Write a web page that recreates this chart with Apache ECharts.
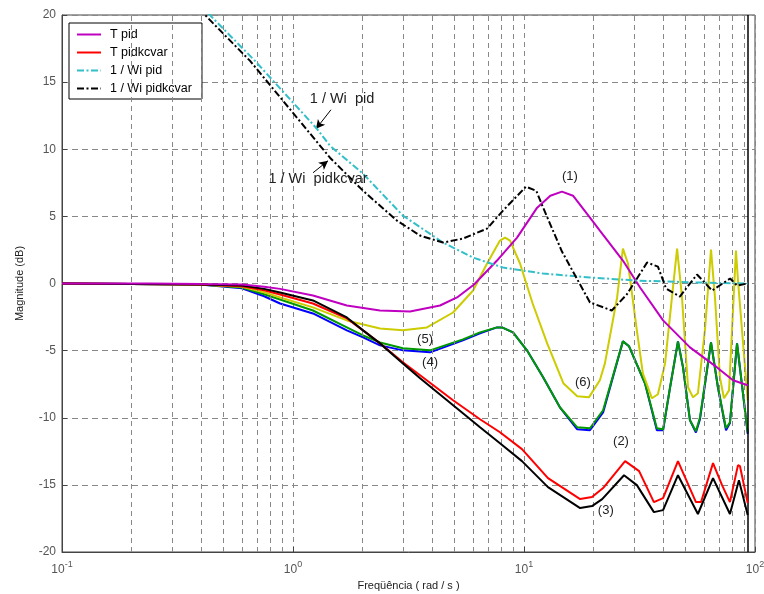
<!DOCTYPE html>
<html><head><meta charset="utf-8">
<script src="https://cdn.jsdelivr.net/npm/echarts@6/dist/echarts.min.js"></script>
<style>html,body{margin:0;padding:0;background:#fff}#c{width:764px;height:594px}</style>
</head><body><div id="c"></div>
<script>
// ---- data (frequency in rad/s, magnitude in dB) ----
const minorFreqs = [0.2,0.3,0.4,0.5,0.6,0.7,0.8,0.9,2,3,4,5,6,7,8,9,20,30,40,50,60,70,80,90];
const endFreq = 93;

const tpidF = [0.1,0.24,0.396,0.601,0.75,0.879,1.22,1.71,2.38,3.21,4.33,5.13,6.08,7.64,9.33,11.4,13.0,14.6,16.3,19.3,21.3,26.8,31.8,40.0,52.3,68.5,80.3,93];
const tpidV = [0,0,-0.04,-0.07,-0.25,-0.40,-0.89,-1.64,-2.01,-2.08,-1.64,-1.04,-0.07,1.71,3.42,5.65,6.54,6.84,6.54,4.91,3.94,1.71,-0.30,-2.75,-4.76,-6.25,-7.21,-7.58];

const tkcF = [0.1,0.396,0.601,0.75,0.879,1.22,1.71,2.01,2.38,2.99,3.55,4.93,6.45,7.87,9.80,12.7,17.5,19.7,22.0,27.4,31.5,36.5,40.0,46.4,55.5,58.4,65.8,72.0,77.9,84.4,86.1,93];
const tkcV = [0,-0.07,-0.20,-0.50,-0.82,-1.49,-2.60,-3.49,-4.46,-5.87,-6.84,-8.70,-10.11,-11.08,-12.34,-14.50,-16.06,-15.91,-15.24,-13.23,-13.98,-16.28,-15.99,-13.23,-16.28,-16.28,-13.38,-15.02,-16.28,-13.53,-13.61,-16.36];

const c3F = [0.1,0.396,0.601,0.75,0.879,1.22,1.71,2.01,2.38,2.99,3.55,5.44,6.45,7.87,9.80,12.7,17.5,19.7,21.8,27.1,30.8,36.5,40.0,46.4,56.6,65.8,77.9,85.2,93];
const c3V = [0,-0.07,-0.15,-0.40,-0.67,-1.26,-2.53,-3.49,-4.46,-5.95,-7.06,-9.67,-10.71,-11.90,-13.23,-15.17,-16.73,-16.58,-16.06,-14.28,-15.02,-17.03,-16.88,-14.28,-17.17,-14.50,-17.17,-14.65,-17.25];

const c45F = [0.1,0.396,0.601,0.75,0.879,1.22,1.71,2.01,2.38,2.99,3.92,5.44,6.45,7.64,8.03,8.96,10.3,12.1,14.3,17.0,19.3,22.0,26.8,28.5,33.4,37.6,40.0,42.9,46.4,48.8,52.3,55.5,57.8,64.5,69.1,74.9,77.9,83.6,93];
const c4V = [0,-0.08,-0.36,-0.95,-1.49,-2.23,-3.49,-4.01,-4.61,-4.98,-5.13,-4.24,-3.71,-3.27,-3.27,-3.64,-4.98,-6.99,-9.22,-10.86,-10.93,-9.60,-4.31,-4.68,-7.43,-10.93,-10.93,-7.73,-4.31,-6.25,-10.19,-11.10,-10.10,-4.39,-7.73,-10.93,-10.40,-4.46,-11.20];
const c5V = [0,-0.08,-0.30,-0.80,-1.19,-2.01,-3.27,-3.87,-4.39,-4.83,-4.98,-4.16,-3.64,-3.27,-3.27,-3.64,-4.98,-6.99,-9.22,-10.71,-10.78,-9.44,-4.31,-4.68,-7.43,-10.78,-10.86,-7.73,-4.31,-6.25,-10.19,-11.00,-9.96,-4.39,-7.73,-10.78,-10.33,-4.46,-11.10];

const c6F = [0.1,0.396,0.601,0.75,0.879,1.22,1.71,2.38,2.99,3.80,4.93,6.02,6.92,7.87,8.28,8.70,9.61,10.9,12.6,14.8,17.0,19.1,21.3,22.4,25.3,26.8,28.2,30.8,32.7,35.8,38.0,40.8,43.7,46.0,48.3,51.3,53.9,56.6,60.7,64.5,67.1,70.5,73.4,77.2,82.7,84.4,93];
const c6V = [0,-0.07,-0.25,-0.65,-1.04,-1.78,-2.75,-3.35,-3.49,-3.27,-2.16,-0.52,1.49,3.20,3.42,3.20,1.49,-1.49,-4.46,-7.43,-8.40,-8.48,-7.21,-5.95,-1.04,2.60,1.49,-3.49,-6.69,-8.55,-8.25,-5.95,-1.04,2.60,-1.04,-7.73,-8.48,-8.18,-3.49,2.53,-1.04,-6.99,-8.55,-7.96,2.45,0.22,-8.70];

const wpidF = [0.324,0.445,0.685,1.27,1.446,2.01,2.99,4.46,6.02,8.11,12.1,19.3,30.5,57.8,93];
const wpidV = [22.45,19.85,16.58,11.52,10.26,8.18,5.06,3.05,1.93,1.19,0.74,0.45,0.22,0.07,0];

const wkcF = [0.3,0.424,0.652,1.446,2.01,2.82,3.55,4.46,5.45,6.92,8.11,10.2,11.3,12.1,14.6,19.3,24.0,27.9,34.1,38.0,41.2,47.3,56.1,65.2,78.0,83.6,93];
const wkcV = [22.9,19.85,16.58,9.37,6.91,4.68,3.57,3.05,3.35,4.09,5.43,7.21,6.91,5.65,2.38,-1.41,-2.01,-0.8,1.56,1.26,-0.37,-0.97,0.67,-0.52,0.37,-0.15,0];

const legendNames = ['T pid','T pidkcvar','1 / Wi pid','1 / Wi pidkcvar'];

// annotations: [text, freq, dB, fontSize]
const annots = [['(1)',15.8,7.96,13],['(2)',26.3,-11.75,13],['(3)',22.6,-16.9,13],['(4)',3.92,-5.87,13],['(5)',3.73,-4.16,13],['(6)',18.0,-7.36,13],
  ['1 / Wi  pid',1.63,13.75,14.5],['1 / Wi  pidkcvar',1.283,7.81,14.5]];
const arrows = [[[1.46,12.94],[1.258,11.52]],[[1.221,8.25],[1.418,9.14]]];

// ---- chart ----
const FONT = 'Liberation Sans, Arial, sans-serif';
const pairs = (F,V) => F.map((f,i)=>[f,V[i]]);
function mk(name,F,V,color,width,type,z){
  return {name,type:'line',data:pairs(F,V),symbol:'none',showSymbol:false,clip:true,z,
    lineStyle:{color,width,type},itemStyle:{color},emphasis:{disabled:true},animation:false};
}
const DD = [7,2.5,2,2.5];
const chart = echarts.init(document.getElementById('c'),null,{renderer:'canvas'});
const option = {
  animation:false,
  backgroundColor:'#fff',
  textStyle:{fontFamily:FONT},
  grid:{left:62,right:9,top:15,bottom:42,show:true,borderColor:'#444',borderWidth:1,outerBoundsMode:'none',containLabel:false},
  legend:{data:legendNames,orient:'vertical',left:69,top:23,itemWidth:24,itemHeight:10,itemGap:5,
    padding:[5,10,4,7],borderColor:'#000',borderWidth:1,backgroundColor:'#fff',
    itemStyle:{opacity:0},
    textStyle:{fontFamily:FONT,fontSize:12.5,color:'#000',padding:[0,0,0,4]},selectedMode:false},
  xAxis:{type:'log',logBase:10,min:0.1,max:100,
    name:'Freqüência ( rad / s )',nameLocation:'middle',nameGap:27,
    nameTextStyle:{fontFamily:FONT,fontSize:11,color:'#222'},
    axisLine:{onZero:false,lineStyle:{color:'#444'}},
    axisTick:{inside:true,length:5,lineStyle:{color:'#444'}},
    splitLine:{show:true,lineStyle:{color:'#888',type:[5,4],width:1}},
    axisLabel:{margin:8,formatter:v=>'{b|10}{e|'+Math.round(Math.log10(v))+'}',
      rich:{b:{fontSize:12,color:'#555',fontFamily:FONT},e:{fontSize:9,color:'#555',fontFamily:FONT,padding:[0,0,10,0]}}}},
  yAxis:{type:'value',min:-20,max:20,interval:5,
    name:'Magnitude (dB)',nameLocation:'middle',nameGap:37,nameRotate:90,
    nameTextStyle:{fontFamily:FONT,fontSize:11,color:'#222'},
    axisLine:{show:true,onZero:false,lineStyle:{color:'#444'}},
    axisTick:{show:true,inside:true,length:5,lineStyle:{color:'#444'}},
    splitLine:{show:true,lineStyle:{color:'#888',type:[6,4],width:1}},
    axisLabel:{margin:6,fontSize:12,color:'#555',fontFamily:FONT}},
  series:[
    {name:'grid',type:'line',data:[],z:1,silent:true,
      markLine:{silent:true,symbol:'none',animation:false,label:{show:false},
        lineStyle:{color:'#888',type:[5,4],width:1},
        data:minorFreqs.map(f=>({xAxis:f}))}},
    mk('(4)',c45F,c4V,'#0000ff',2,'solid',2),
    mk('(5)',c45F,c5V,'#009a00',2,'solid',3),
    mk('(6)',c6F,c6V,'#cccc00',2,'solid',4),
    mk('T pidkcvar',tkcF,tkcV,'#ff0000',2,'solid',5),
    mk('(3)',c3F,c3V,'#000000',2,'solid',6),
    mk('T pid',tpidF,tpidV,'#c000c0',2,'solid',7),
    mk('1 / Wi pid',wpidF,wpidV,'#33bfc8',2,DD,8),
    mk('1 / Wi pidkcvar',wkcF,wkcV,'#000000',2,DD,9),
    {name:'marks',type:'line',data:[],z:10,silent:true,
      markLine:{silent:true,animation:false,label:{show:false},symbol:['none','none'],
        lineStyle:{color:'#000',type:'solid',width:1.5},
        data:[{xAxis:endFreq}].concat(arrows.map(a=>[{coord:a[0],symbol:'none'},{coord:a[1],symbol:'arrow',symbolSize:[7,9]}]))
          .map((d,i)=> i===0 ? d : d.map(p=>Object.assign(p,{lineStyle:{width:1,color:'#000',type:'solid'}})))}}
  ]
};
chart.setOption(option);
const g = annots.map(a=>{
  const p = chart.convertToPixel({gridIndex:0},[a[1],a[2]]);
  return {type:'text',x:p[0],y:p[1],z:100,silent:true,
    style:{text:a[0],fill:'#222',font:a[3]+'px '+FONT,align:'center',verticalAlign:'middle'}};
});
chart.setOption({graphic:g});
</script></body></html>
